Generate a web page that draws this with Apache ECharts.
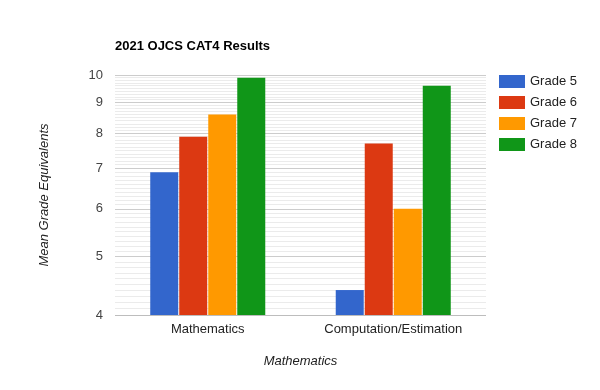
<!DOCTYPE html>
<html>
<head>
<meta charset="utf-8">
<script src="https://cdn.jsdelivr.net/npm/echarts@6/dist/echarts.min.js"></script>
<style>html,body{margin:0;padding:0;background:#fff}#c{width:600px;height:390px}</style>
</head>
<body>
<div id="c"></div>
<script>
const categories = ['Mathematics', 'Computation/Estimation'];
const seriesNames = ['Grade 5', 'Grade 6', 'Grade 7', 'Grade 8'];
const grade5 = [6.9, 4.4];
const grade6 = [7.9, 7.7];
const grade7 = [8.6, 6.0];
const grade8 = [9.9, 9.6];
const yTicks = [4, 5, 6, 7, 8, 9, 10];
const colors = ['#3366cc', '#dc3912', '#ff9900', '#109618'];

const values = [grade5, grade6, grade7, grade8];
const FONT = 'Liberation Sans, Arial, sans-serif';

// minor gridlines every 0.1 between major ticks
const minorLines = [];
for (let i = 0; i < yTicks.length - 1; i++) {
  for (let k = 1; k < 10; k++) {
    minorLines.push({
      yAxis: +(yTicks[i] + k * (yTicks[i + 1] - yTicks[i]) / 10).toFixed(2),
      lineStyle: { color: '#ebebeb', width: 1, type: 'solid' },
      label: { show: false }
    });
  }
}
const majorLines = yTicks.map((t, i) => ({
  yAxis: t,
  lineStyle: { color: i === 0 ? '#bdbdbd' : '#cccccc', width: 1, type: 'solid' },
  label: { show: true, position: 'start', formatter: String(t), color: '#444', fontSize: 13, fontFamily: FONT, distance: 12 }
}));

const series = seriesNames.map((name, i) => {
  const s = {
    name,
    type: 'bar',
    data: values[i],
    barWidth: 28,
    barGap: '3.6%',
    itemStyle: { color: colors[i] },
    clip: true,
    z: 3
  };
  if (i === 0) {
    s.markLine = {
      silent: true,
      symbol: ['none', 'none'],
      z: 1,
      animation: false,
      data: minorLines.concat(majorLines)
    };
  }
  return s;
});

const chart = echarts.init(document.getElementById('c'), null, { renderer: 'canvas' });
chart.setOption({
  animation: false,
  color: colors,
  title: {
    text: '2021 OJCS CAT4 Results',
    left: 110, top: 35,
    textStyle: { fontSize: 13, fontWeight: 'bold', color: '#000', fontFamily: FONT }
  },
  legend: {
    orient: 'vertical',
    left: 494, top: 70,
    itemWidth: 26, itemHeight: 13, itemGap: 8,
    icon: 'rect',
    textStyle: { fontSize: 13, color: '#222', fontFamily: FONT },
    data: seriesNames
  },
  grid: { left: 115, right: 114, top: 75, bottom: 75, containLabel: false },
  xAxis: {
    type: 'category',
    data: categories,
    name: 'Mathematics',
    nameLocation: 'middle',
    nameGap: 40,
    nameTextStyle: { fontStyle: 'italic', fontSize: 13, color: '#222', fontFamily: FONT },
    axisLine: { show: false },
    axisTick: { show: false },
    axisLabel: { color: '#222', fontSize: 13, fontFamily: FONT, margin: 8 }
  },
  yAxis: {
    type: 'log',
    logBase: 10,
    min: 4, max: 10,
    name: 'Mean Grade Equivalents',
    nameLocation: 'middle',
    nameGap: 64,
    nameTextStyle: { fontStyle: 'italic', fontSize: 13, color: '#222', fontFamily: FONT },
    axisLine: { show: false },
    axisTick: { show: false },
    axisLabel: { show: false },
    splitLine: { show: false },
    minorSplitLine: { show: false }
  },
  series
});
</script>
</body>
</html>
